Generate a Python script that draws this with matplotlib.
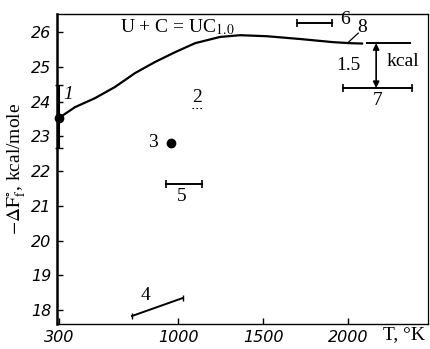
import matplotlib
matplotlib.use("Agg")
import matplotlib.pyplot as plt
from matplotlib import font_manager as fm

# ---- data ----
curve_T = [300, 394, 512, 629, 747, 865, 982, 1100, 1247, 1365, 1524, 1718, 1912, 2012, 2082]
curve_F = [23.53, 23.84, 24.10, 24.42, 24.82, 25.14, 25.42, 25.68, 25.86, 25.91, 25.88, 25.80, 25.71, 25.68, 25.67]

p1_T, p1_F, p1_lo, p1_hi = 300, 23.53, 22.66, 24.47
p2_T = [1082, 1147]
p2_F = [23.81, 23.81]
p3_T, p3_F = 959, 22.81
p4_T = [729, 1029]
p4_F = [17.83, 18.35]
p5_T = [929, 1141]
p5_F = [21.63, 21.63]
p6_T = [1700, 1906]
p6_F = [26.26, 26.26]
p7_T = [1970, 2376]
p7_F = [24.39, 24.39]
p8_T = [2112, 2365]
p8_F = [25.68, 25.68]

xticks = [300, 1000, 1500, 2000]
xticklabels = ["300", "1000", "1500", "2000"]
yticks = [18, 19, 20, 21, 22, 23, 24, 25, 26]

avail = {f.name for f in fm.fontManager.ttflist}
tickfont = "DejaVu Sans"
for cand in ["Liberation Sans Narrow", "DejaVu Sans Condensed"]:
    if cand in avail:
        tickfont = cand
        break
serif = "Liberation Serif" if "Liberation Serif" in avail else "DejaVu Serif"
plt.rcParams["mathtext.fontset"] = "stix"

fig = plt.figure(figsize=(4.31, 3.49), dpi=100)
ax = fig.add_axes([57/431, 1-324/349, (428-57)/431, (324-14)/349])
ax.set_xlim(288, 2470)
ax.set_ylim(17.6, 26.52)

k = "black"
ax.plot(curve_T, curve_F, color=k, lw=1.6)
# point 1
ax.errorbar([p1_T], [p1_F], yerr=[[p1_F-p1_lo], [p1_hi-p1_F]], fmt="o", color=k,
            ms=6, capsize=3, elinewidth=1.5, clip_on=False, zorder=5)
# point 2 (faint dotted mark)
ax.plot(p2_T, p2_F, color=k, lw=0.8, ls=(0, (1.5, 2)))
# point 3
ax.plot([p3_T], [p3_F], "o", color=k, ms=6)
# point 4
ax.plot(p4_T, p4_F, color=k, lw=1.4, marker="|", ms=5)
# horizontal bars 5, 6, 7
for T, F in [(p5_T, p5_F), (p6_T, p6_F), (p7_T, p7_F)]:
    ax.plot(T, F, color=k, lw=1.4, marker="|", ms=6, mew=1.2)
# upper reference line
ax.plot(p8_T, p8_F, color=k, lw=1.4)
# leader for 8
ax.plot([2000, 2060], [25.70, 25.97], color=k, lw=0.9)
# double arrow 1.5 kcal
ax.annotate("", xy=(2165, 24.39), xytext=(2165, 25.68),
            arrowprops=dict(arrowstyle="<|-|>", color=k, lw=1.2,
                            mutation_scale=9, shrinkA=0, shrinkB=0))

tf = dict(family=serif, fontsize=14, color=k)
ax.text(659, 26.14, "U + C = UC$_{1.0}$", ha="left", va="center", **tf)
ax.text(353, 24.19, "1", ha="center", va="center", style="italic", **tf)
ax.text(1112, 24.13, "2", ha="center", va="center", **tf)
ax.text(853, 22.81, "3", ha="center", va="center", **tf)
ax.text(806, 18.43, "4", ha="center", va="center", **tf)
ax.text(1024, 21.28, "5", ha="center", va="center", **tf)
ax.text(1982, 26.35, "6", ha="center", va="center", **tf)
ax.text(2082, 26.12, "8", ha="center", va="center", **tf)
ax.text(2176, 24.04, "7", ha="center", va="center", **tf)
ax.text(2000, 25.05, "1.5", ha="center", va="center", **tf)
ax.text(2324, 25.14, "kcal", ha="center", va="center", **tf)

ax.set_xticks(xticks)
ax.set_xticklabels(xticklabels)
ax.set_yticks(yticks)
ax.tick_params(direction="in", length=4, width=1, pad=4, colors=k)
for lab in ax.get_xticklabels() + ax.get_yticklabels():
    lab.set_fontfamily(tickfont)
    lab.set_fontstyle("italic")
    lab.set_fontsize(11.5)

ax.spines["left"].set_linewidth(1.8)
ax.spines["bottom"].set_linewidth(1.0)
ax.spines["top"].set_linewidth(1.0)
ax.spines["right"].set_linewidth(0.9)

ax.set_ylabel("$-\\Delta\\mathrm{F}_\\mathrm{f}^{\\circ}$, kcal/mole", family=serif,
              fontsize=14, labelpad=2)
fig.text(404/431, 1-335/349, "T, °K", ha="center", va="center", **tf)

fig.savefig("out.png", dpi=100)
